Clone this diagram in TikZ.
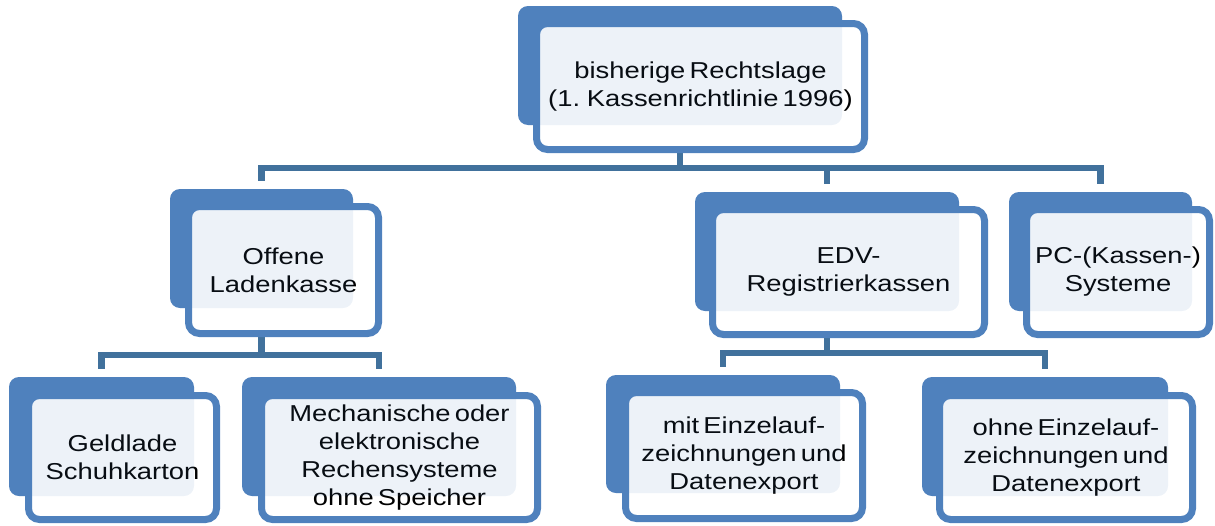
\documentclass[tikz,border=0pt]{standalone}
\usepackage{fontspec}
\setmainfont{Liberation Sans}[FakeStretch=1.19, WordSpace=0.55]
\usetikzlibrary{backgrounds}
\definecolor{kblau}{HTML}{4F81BD}
\definecolor{klinie}{HTML}{41719C}

\begin{document}
\begin{tikzpicture}[x=1pt,y=-1pt,
    hinten/.style 2 args={fill=kblau, rounded corners=10pt, minimum width=#1, minimum height=#2, inner sep=0pt},
    schleier/.style 2 args={fill=kblau, fill opacity=0.1, rounded corners=10pt, minimum width=#1, minimum height=#2, inner sep=0pt},
    vorne/.style 2 args={draw=kblau, line width=7pt, fill=white, rounded corners=11pt, minimum width=#1, minimum height=#2, inner sep=0pt, align=center, font=\fontsize{23}{28}\selectfont},
    linie/.style={draw=klinie, line width=6.5pt, shorten >=8pt}]
    \useasboundingbox (0,0) rectangle (1215,525);

    % oberste Ebene
    \node[hinten={324pt}{119pt}] (rlh) at (680,65.5) {};
    \node[vorne={328pt}{126pt}] (rl) at (700.5,86.5) {bisherige Rechtslage\\(1. Kassenrichtlinie 1996)};
    \node[schleier={324pt}{119pt}] (rls) at (680,65.5) {};

    % mittlere Ebene
    \node[hinten={183pt}{119pt}] (olkh) at (261.5,248.5) {};
    \node[vorne={190pt}{127pt}] (olk) at (283.5,270) {Offene\\Ladenkasse};
    \node[schleier={183pt}{119pt}] (olks) at (261.5,248.5) {};

    \node[hinten={264pt}{119pt}] (edvh) at (827,251.5) {};
    \node[vorne={272pt}{125pt}] (edv) at (848.5,272) {EDV-\\Registrierkassen};
    \node[schleier={264pt}{119pt}] (edvs) at (827,251.5) {};

    \node[hinten={183pt}{119pt}] (pch) at (1100.5,251.5) {};
    \node[vorne={183pt}{125pt}] (pc) at (1118,272) {PC-(Kassen-)\\Systeme};
    \node[schleier={183pt}{119pt}] (pcs) at (1100.5,251.5) {};

    % untere Ebene
    \node[hinten={185pt}{119pt}] (geldh) at (101.5,436.5) {};
    \node[vorne={188pt}{124pt}] (geld) at (122.5,457.5) {Geldlade\\Schuhkarton};
    \node[schleier={185pt}{119pt}] (gelds) at (101.5,436.5) {};

    \node[hinten={274pt}{119pt}] (mechh) at (379,436.5) {};
    \node[vorne={276pt}{124pt}] (mech) at (399.5,457.5) {Mechanische oder\\elektronische\\Rechensysteme\\ohne Speicher};
    \node[schleier={274pt}{119pt}] (mechs) at (379,436.5) {};

    \node[hinten={234pt}{118pt}] (mith) at (723,434) {};
    \node[vorne={237pt}{126pt}] (mit) at (744,455.5) {mit Einzelauf-\\zeichnungen und\\Datenexport};
    \node[schleier={234pt}{118pt}] (mits) at (723,434) {};

    \node[hinten={246pt}{119pt}] (ohneh) at (1045,436.5) {};
    \node[vorne={253pt}{124pt}] (ohne) at (1066,457.5) {ohne Einzelauf-\\zeichnungen und\\Datenexport};
    \node[schleier={246pt}{119pt}] (ohnes) at (1045,436.5) {};

    \begin{pgfonlayer}{background}
        \draw[linie] (rlh.south) -- ++(0,43) -| (olkh.north);
        \draw[linie] (rlh.south) -- ++(0,43) -| (edvh.north);
        \draw[linie] (rlh.south) -- ++(0,43) -| (pch.north);
        \draw[linie] (olkh.south) -- ++(0,47) -| (geldh.north);
        \draw[linie] (olkh.south) -- ++(0,47) -| (mechh.north);
        \draw[linie] (edvh.south) -- ++(0,42) -| (mith.north);
        \draw[linie] (edvh.south) -- ++(0,42) -| (ohneh.north);
    \end{pgfonlayer}
\end{tikzpicture}
\end{document}
